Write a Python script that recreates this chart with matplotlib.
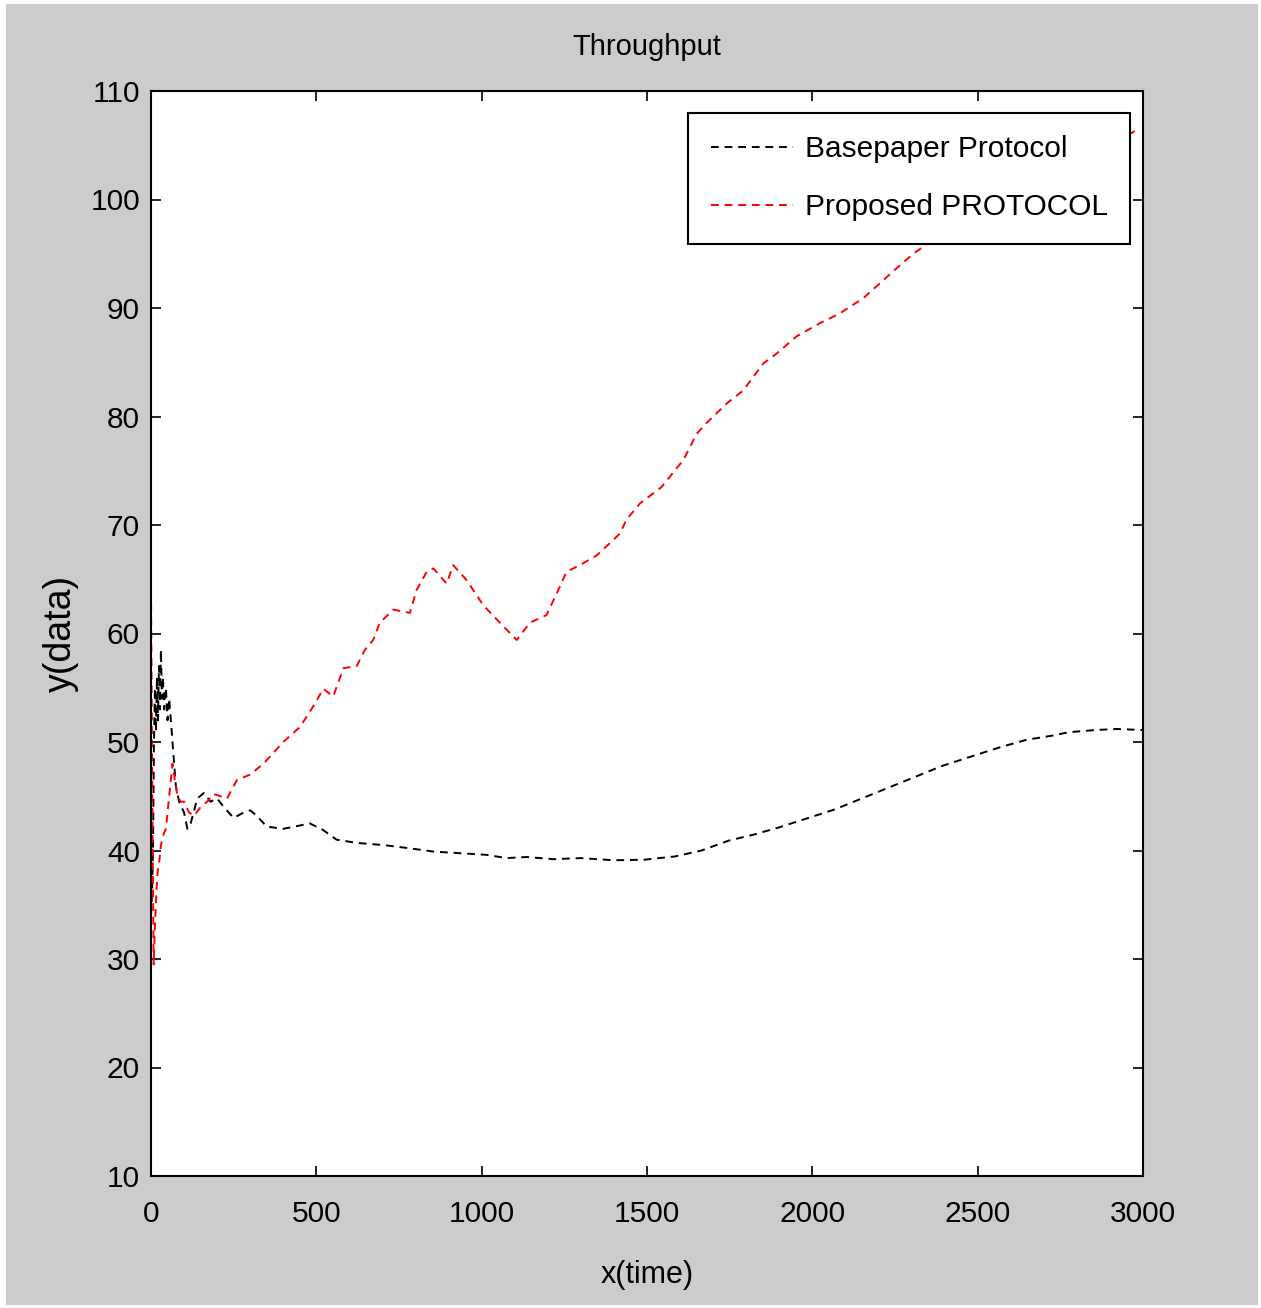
import matplotlib
matplotlib.use("Agg")
import matplotlib.pyplot as plt
from matplotlib.patches import Rectangle

plt.rcParams['font.family'] = ['Liberation Sans', 'DejaVu Sans']

title = "Throughput"
x_label = "x(time)"
y_label = "y(data)"
series_names = ["Basepaper Protocol", "Proposed PROTOCOL"]
x_ticks = [0, 500, 1000, 1500, 2000, 2500, 3000]
y_ticks = [10, 20, 30, 40, 50, 60, 70, 80, 90, 100, 110]

black_x = [0, 3, 6, 9, 12, 15, 18, 21, 24, 27,
           30, 33, 36, 40, 45, 50, 55, 60, 65, 70,
           75, 85, 100, 110, 120, 140, 160, 180, 200, 220,
           250, 280, 300, 320, 350, 400, 450, 480, 520, 561,
           622, 703, 783, 854, 934, 1015, 1075, 1136, 1217, 1300,
           1400, 1491, 1584, 1665, 1746, 1827, 1896, 1988, 2069, 2150,
           2231, 2312, 2393, 2474, 2566, 2647, 2728, 2775, 2855, 2920,
           3000]
black_y = [34, 36, 40, 50, 55, 51, 56, 52, 57, 53,
           58.5, 54, 56, 53, 55, 52, 54, 52, 50, 48,
           46, 44.5, 43.5, 42, 42.5, 44.8, 45.3, 44.5, 44.8, 44,
           43, 43.5, 43.7, 43.2, 42.2, 42, 42.3, 42.5, 41.9, 41,
           40.7, 40.5, 40.2, 39.9, 39.75, 39.6, 39.3, 39.4, 39.2, 39.3,
           39.1, 39.15, 39.45, 40.0, 40.9, 41.5, 42.1, 43.0, 43.8, 44.8,
           45.8, 46.8, 47.8, 48.6, 49.5, 50.2, 50.6, 50.9, 51.1, 51.2,
           51.1]

red_x = [0, 4, 8, 12, 16, 20, 25, 30, 38, 45,
         55, 65, 72, 80, 90, 100, 115, 130, 150, 170,
         190, 210, 230, 260, 300, 340, 370, 400, 451, 491,
         521, 551, 582, 622, 647, 672, 692, 733, 783, 803,
         834, 854, 894, 914, 955, 1005, 1055, 1106, 1146, 1196,
         1227, 1257, 1297, 1348, 1418, 1438, 1479, 1544, 1610, 1650,
         1680, 1741, 1791, 1852, 1892, 1953, 2023, 2083, 2154, 2205,
         2245, 2305, 2400, 2500, 2600, 2700, 2800, 2900, 2975]
red_y = [64, 45, 29.5, 33, 36, 38, 39, 40.5, 41.5, 42,
         45, 48, 46.5, 45, 44.5, 44.5, 43.5, 43.2, 44, 44.5,
         45.2, 45, 44.8, 46.5, 47, 48, 49, 50, 51.4, 53.3,
         54.9, 54.2, 56.8, 57, 58.5, 59.4, 61, 62.2, 61.9, 64,
         65.7, 66, 64.6, 66.3, 64.9, 62.6, 61, 59.4, 61, 61.7,
         63.7, 65.7, 66.3, 67.2, 69.2, 70.5, 72, 73.5, 76, 78.4,
         79.4, 81.2, 82.4, 84.9, 85.8, 87.4, 88.6, 89.5, 90.9, 92.3,
         93.4, 95, 97, 98.7, 100.3, 102, 103.5, 105, 106.3]

W, H = 1261, 1308
fig = plt.figure(figsize=(W / 100, H / 100), dpi=100, facecolor='white')
fig.patches.append(Rectangle((6 / W, 1 - 1305 / H), (1258 - 6) / W, (1305 - 4) / H,
                             transform=fig.transFigure, facecolor='#cccccc',
                             edgecolor='none', zorder=-10))

ax = fig.add_axes([151 / W, 1 - 1176 / H, (1143 - 151) / W, (1176 - 91) / H])
ax.set_facecolor('white')

dash = (0, (4, 3))
ax.plot(black_x, black_y, color='black', linewidth=1.4, linestyle=dash, label=series_names[0])
ax.plot(red_x, red_y, color='red', linewidth=1.4, linestyle=dash, label=series_names[1])

ax.set_xlim(0, 3000)
ax.set_ylim(10, 110)
ax.set_xticks(x_ticks)
ax.set_yticks(y_ticks)
ax.tick_params(direction='in', length=7, width=1.2, top=True, right=True,
               labelsize=21.5, pad=8, colors='black')
ax.tick_params(axis='x', pad=17)
for s in ax.spines.values():
    s.set_linewidth(1.5)
    s.set_color('black')

ax.set_title(title, fontsize=21, pad=26)
ax.set_xlabel(x_label, fontsize=22, labelpad=23)
ax.set_ylabel(y_label, fontsize=27, labelpad=8)

leg = ax.legend(loc='upper right', bbox_to_anchor=((1130 - 151) / 992, (1176 - 113) / 1085),
                borderaxespad=0, fontsize=21.5, fancybox=False, framealpha=1,
                edgecolor='black', handlelength=2.75, handletextpad=0.4,
                labelspacing=1.0, borderpad=0.75)
leg.get_frame().set_linewidth(1.5)

fig.savefig('out.png', dpi=100, facecolor=fig.get_facecolor())
